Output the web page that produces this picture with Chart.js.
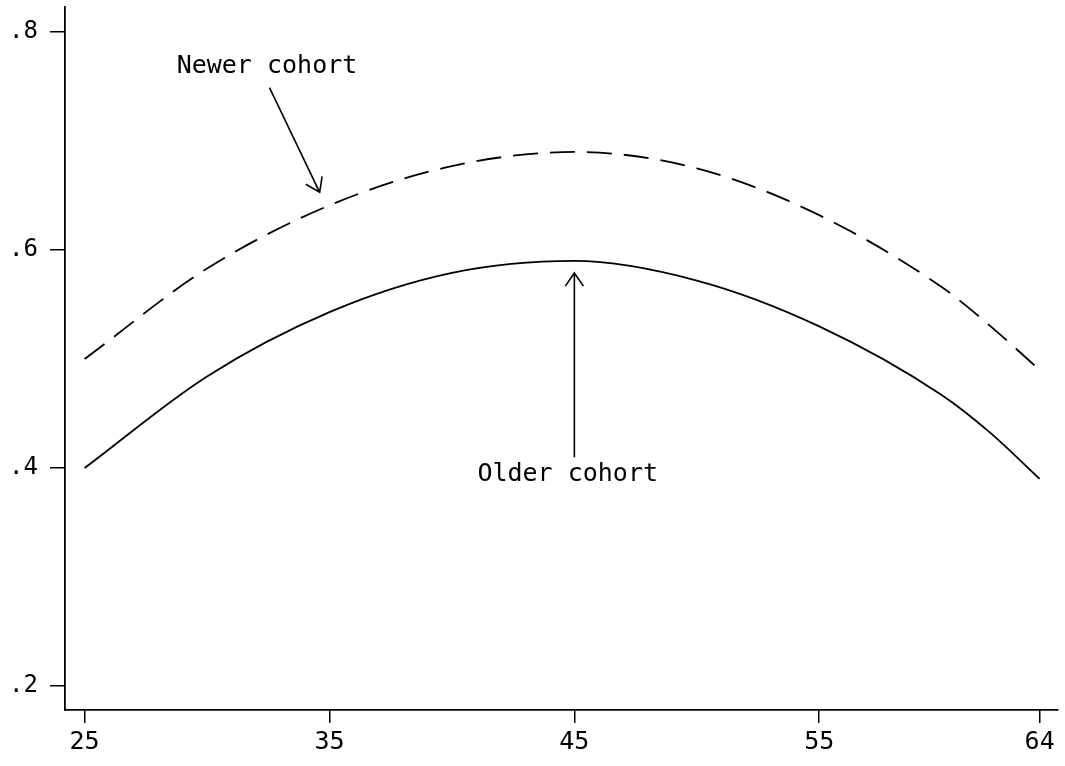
<!DOCTYPE html>
<html>
<head>
<meta charset="utf-8">
<script src="https://cdn.jsdelivr.net/npm/chart.js@4/dist/chart.umd.min.js"></script>
<style>
  body { margin: 0; background: #fff; }
</style>
</head>
<body>
<canvas id="myChart" width="1065" height="766"></canvas>
<script>
// ages and predicted values
const ages = [25, 30, 35, 40, 45, 50, 55, 60, 62, 64];
const olderCohort = [0.400, 0.484, 0.543, 0.579, 0.590, 0.572, 0.530, 0.467, 0.432, 0.390];
const newerCohort = [0.500, 0.583, 0.641, 0.677, 0.690, 0.675, 0.632, 0.566, 0.530, 0.490];

const xTicks = [25, 35, 45, 55, 64];
const yTicks = [0.2, 0.4, 0.6, 0.8];

// text labels with arrows, placed in data units
const notes = [
    { text: 'Newer cohort', x: 28.76, y: 0.768, from: [32.55, 0.749], to: [34.6, 0.653] },
    { text: 'Older cohort', x: 41.04, y: 0.3945, from: [45, 0.410], to: [45, 0.579] }
];

const FONT = '"DejaVu Sans Mono", "Liberation Mono", monospace';

function pts(ys) {
    return ages.map((a, i) => ({ x: a, y: ys[i] }));
}

const notesPlugin = {
    id: 'notes',
    afterDatasetsDraw(chart) {
        const ctx = chart.ctx, xs = chart.scales.x, ys = chart.scales.y;
        ctx.save();
        ctx.fillStyle = '#000';
        ctx.strokeStyle = '#000';
        ctx.lineWidth = 1.6;
        ctx.font = '25px ' + FONT;
        ctx.textBaseline = 'middle';
        notes.forEach(n => {
            ctx.fillText(n.text, xs.getPixelForValue(n.x), ys.getPixelForValue(n.y));
            const x1 = xs.getPixelForValue(n.from[0]), y1 = ys.getPixelForValue(n.from[1]);
            const x2 = xs.getPixelForValue(n.to[0]), y2 = ys.getPixelForValue(n.to[1]);
            ctx.beginPath();
            ctx.moveTo(x1, y1);
            ctx.lineTo(x2, y2);
            const ang = Math.atan2(y2 - y1, x2 - x1);
            const len = 16, spread = 0.6;
            ctx.moveTo(x2 - len * Math.cos(ang - spread), y2 - len * Math.sin(ang - spread));
            ctx.lineTo(x2, y2);
            ctx.lineTo(x2 - len * Math.cos(ang + spread), y2 - len * Math.sin(ang + spread));
            ctx.stroke();
        });
        ctx.restore();
    }
};

const config = {
    type: 'line',
    data: {
        datasets: [{
                label: 'Newer cohort',
                data: pts(newerCohort),
                borderColor: '#000',
                borderWidth: 1.8,
                borderDash: [25, 12],
                pointRadius: 0,
                cubicInterpolationMode: 'monotone',
                fill: false
            },
            {
                label: 'Older cohort',
                data: pts(olderCohort),
                borderColor: '#000',
                borderWidth: 1.8,
                pointRadius: 0,
                cubicInterpolationMode: 'monotone',
                fill: false
            }
        ]
    },
    options: {
        responsive: false,
        animation: false,
        layout: { padding: { top: 7, right: 7, left: 0, bottom: 0 } },
        plugins: {
            legend: { display: false },
            tooltip: { enabled: false }
        },
        scales: {
            x: {
                type: 'linear',
                min: 24.2,
                max: 64.75,
                afterBuildTicks: s => { s.ticks = xTicks.map(v => ({ value: v })); },
                afterFit: s => { s.height = 56; s.paddingLeft = 0; s.paddingRight = 0; },
                grid: { drawOnChartArea: false, drawTicks: true, tickLength: 13, color: '#000', lineWidth: 1.5 },
                border: { display: true, color: '#000', width: 1.8 },
                ticks: {
                    padding: 4,
                    color: '#000',
                    font: { family: FONT, size: 25 },
                    maxRotation: 0,
                    callback: v => String(v)
                }
            },
            y: {
                type: 'linear',
                min: 0.178,
                max: 0.823,
                afterBuildTicks: s => { s.ticks = yTicks.map(v => ({ value: v })); },
                afterFit: s => { s.width = 65; s.paddingTop = 0; s.paddingBottom = 0; },
                grid: { drawOnChartArea: false, drawTicks: true, tickLength: 15, color: '#000', lineWidth: 1.5 },
                border: { display: true, color: '#000', width: 1.8 },
                ticks: {
                    padding: 12,
                    color: '#000',
                    font: { family: FONT, size: 24 },
                    callback: v => v.toFixed(1).replace('0.', '.')
                }
            }
        }
    },
    plugins: [notesPlugin]
};

var ctx = document.getElementById('myChart');
var myChart = new Chart(ctx, config);
</script>
</body>
</html>
